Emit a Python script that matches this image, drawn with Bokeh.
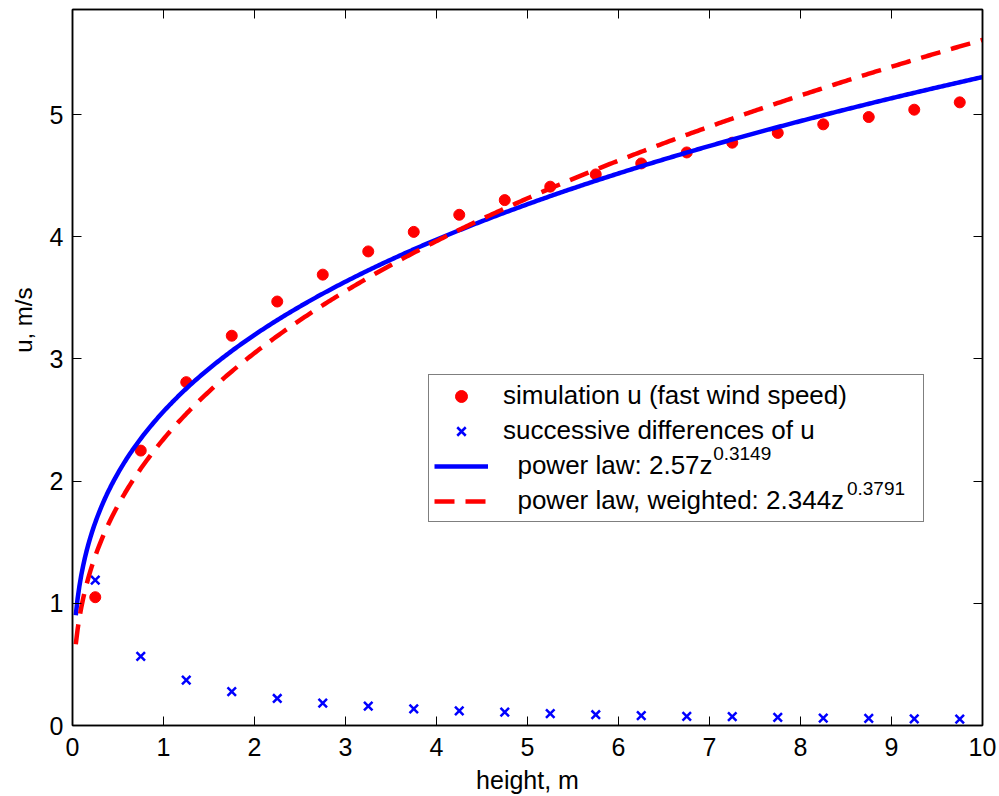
import numpy as np
from bokeh.plotting import figure
from bokeh.models import Range1d, LinearAxis, FixedTicker, Legend, LegendItem, Title
from bokeh.core.properties import value
from bokeh.embed import file_html
from bokeh.resources import INLINE

# ---- data ----
heights = [0.25, 0.75, 1.25, 1.75, 2.25, 2.75, 3.25, 3.75, 4.25, 4.75,
           5.25, 5.75, 6.25, 6.75, 7.25, 7.75, 8.25, 8.75, 9.25, 9.75]
u_sim = [1.05, 2.25, 2.81, 3.19, 3.47, 3.69, 3.88, 4.04, 4.18, 4.30,
         4.41, 4.51, 4.60, 4.69, 4.77, 4.85, 4.92, 4.98, 5.04, 5.10]
u_diff = [1.19, 0.565, 0.372, 0.278, 0.221, 0.184, 0.158, 0.136, 0.120, 0.109,
          0.097, 0.088, 0.081, 0.075, 0.072, 0.066, 0.061, 0.058, 0.055, 0.052]

# power-law fits given in the legend
fit_a, fit_b = 2.57, 0.3149
wfit_a, wfit_b = 2.344, 0.3791
z_min, z_max = 0.036, 10.0

x_ticks = [0, 1, 2, 3, 4, 5, 6, 7, 8, 9, 10]
y_ticks = [0, 1, 2, 3, 4, 5]
x_range = (0, 10)
y_range = (0, 5.86)

# exponent (superscript) texts of the legend entries and their anchor points
exp_texts = ["0.3149", "0.3791"]
exp_x = [7.04, 8.51]
exp_y = [2.225, 1.94]

z_fit = np.linspace(z_min, z_max, 500)
u_fit = fit_a * z_fit ** fit_b
u_wfit = wfit_a * z_fit ** wfit_b

FONT = "Liberation Sans"

p = figure(width=999, height=796, output_backend="svg", toolbar_location=None,
           x_range=Range1d(*x_range), y_range=Range1d(*y_range),
           min_border_left=72, min_border_right=17, min_border_top=9, min_border_bottom=70)
p.xgrid.visible = False
p.ygrid.visible = False
p.outline_line_color = "black"
p.outline_line_width = 1.5
p.background_fill_color = "white"
p.border_fill_color = "white"

r_sim = p.scatter(heights, u_sim, marker="circle", size=11, fill_color="#ff0000", line_color="#ff0000")
r_diff = p.scatter(heights, u_diff, marker="x", size=12, line_color="#0000ff", line_width=2.5)
r_fit = p.line(z_fit, u_fit, line_color="#0000ff", line_width=4.5)
r_wfit = p.line(z_fit, u_wfit, line_color="#ff0000", line_width=4.5, line_dash="20 11")

def style_axis(ax, labels=True):
    ax.axis_line_color = "black"
    ax.axis_line_width = 1.5
    ax.major_tick_in = 9
    ax.major_tick_out = 0
    ax.minor_tick_in = 0
    ax.minor_tick_out = 0
    ax.major_tick_line_color = "black"
    ax.major_tick_line_width = 1
    if labels:
        ax.major_label_text_font = FONT
        ax.major_label_text_font_size = "25px"
        ax.major_label_text_color = "black"
    else:
        ax.major_label_text_font_size = "1px"
        ax.major_label_text_color = None
        ax.major_label_standoff = 0

xa = p.xaxis[0]
style_axis(xa)
xa.ticker = FixedTicker(ticks=x_ticks)
xa.major_label_standoff = 12
xa.axis_label = "height, m"
xa.axis_label_text_font = FONT
xa.axis_label_text_font_size = "25px"
xa.axis_label_text_font_style = "normal"
xa.axis_label_text_color = "black"
xa.axis_label_standoff = 7

ya = p.yaxis[0]
style_axis(ya)
ya.ticker = FixedTicker(ticks=y_ticks)
ya.major_label_standoff = 9

top = LinearAxis(ticker=FixedTicker(ticks=x_ticks))
style_axis(top, labels=False)
p.add_layout(top, "above")
right = LinearAxis(ticker=FixedTicker(ticks=y_ticks))
style_axis(right, labels=False)
p.add_layout(right, "right")

ytitle = Title(text="u, m/s", align="right", offset=278, standoff=16, vertical_align="top",
               text_font=FONT, text_font_size="24px", text_font_style="normal",
               text_color="black")
p.add_layout(ytitle, "left")

# exponents of the legend formulas (drawn first; the legend box is transparent)
p.text(x=exp_x, y=exp_y, text=exp_texts, text_font=value(FONT), text_font_size="19px",
       text_baseline="alphabetic", text_align="left", text_color="black")

NB = "\u00a0\u00a0"
legend = Legend(items=[
    LegendItem(label="simulation u (fast wind speed)", renderers=[r_sim]),
    LegendItem(label="successive differences of u", renderers=[r_diff]),
    LegendItem(label=NB + "power law: 2.57z", renderers=[r_fit]),
    LegendItem(label=NB + "power law, weighted: 2.344z", renderers=[r_wfit]),
], location=(356, 203), margin=0, padding=5, spacing=4,
    glyph_width=54, glyph_height=30, label_height=30, label_width=415, label_standoff=15,
    label_text_font=FONT, label_text_font_size="26px", label_text_color="black",
    border_line_color="black", border_line_width=1.5,
    background_fill_color="white", background_fill_alpha=0.0)
p.add_layout(legend, "center")

open("out.html", "w").write(file_html(p, INLINE))
